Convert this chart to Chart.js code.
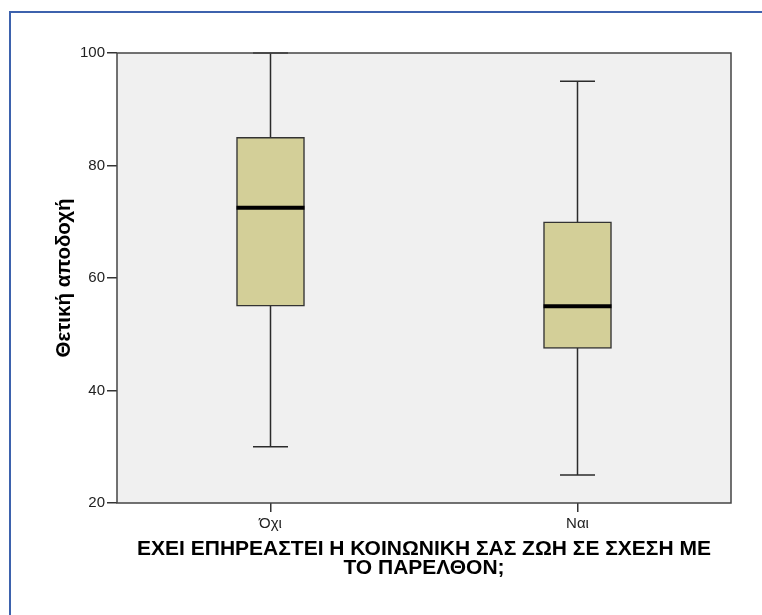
<!DOCTYPE html>
<html>
<head>
<meta charset="utf-8">
<script src="https://cdn.jsdelivr.net/npm/chart.js@4/dist/chart.umd.min.js"></script>
<style>
  html, body { margin: 0; padding: 0; background: #fff; }
  #wrap { position: relative; width: 762px; height: 615px; overflow: hidden; }
  #frame {
    position: absolute; left: 9px; top: 11px; width: 800px; height: 700px;
    border-left: 2px solid #3d62ad; border-top: 2px solid #3d62ad;
  }
  canvas { position: absolute; left: 0; top: 0; }
</style>
</head>
<body>
<div id="wrap">
  <div id="frame"></div>
  <canvas id="chart" width="762" height="615"></canvas>
</div>
<script>
// boxplot summary per group
const categories  = ['Όχι', 'Ναι'];
const whiskerLow  = [30, 25];
const q1          = [55, 47.5];
const median      = [72.5, 55];
const q3          = [85, 70];
const whiskerHigh = [100, 95];
const yTicks      = [20, 40, 60, 80, 100];

const BOX_W = 68;
const CAP_W = 35;
const FONT = '"Liberation Sans", Arial, sans-serif';

const boxPlotPlugin = {
    id: 'boxPlot',
    beforeDraw(chart) {
        const { ctx, chartArea: a } = chart;
        ctx.save();
        ctx.fillStyle = '#f0f0f0';
        ctx.fillRect(a.left, a.top, a.right - a.left, a.bottom - a.top);
        ctx.restore();
    },
    beforeDatasetsDraw(chart) {
        const { ctx, scales: { x, y } } = chart;
        ctx.save();
        ctx.strokeStyle = '#2b2b2b';
        ctx.lineWidth = 1.5;
        categories.forEach((c, i) => {
            const cx = x.getPixelForValue(i);
            const lo = y.getPixelForValue(whiskerLow[i]);
            const hi = y.getPixelForValue(whiskerHigh[i]);
            ctx.beginPath();
            ctx.moveTo(cx, lo); ctx.lineTo(cx, hi);
            ctx.moveTo(cx - CAP_W / 2, lo); ctx.lineTo(cx + CAP_W / 2, lo);
            ctx.moveTo(cx - CAP_W / 2, hi); ctx.lineTo(cx + CAP_W / 2, hi);
            ctx.stroke();
        });
        ctx.restore();
    },
    afterDatasetsDraw(chart) {
        const { ctx, scales: { x, y } } = chart;
        ctx.save();
        ctx.strokeStyle = '#000';
        ctx.lineWidth = 4;
        categories.forEach((c, i) => {
            const cx = x.getPixelForValue(i);
            const my = y.getPixelForValue(median[i]);
            ctx.beginPath();
            ctx.moveTo(cx - BOX_W / 2, my); ctx.lineTo(cx + BOX_W / 2, my);
            ctx.stroke();
        });
        ctx.restore();
    },
    afterDraw(chart) {
        const { ctx, chartArea: a } = chart;
        ctx.save();
        ctx.strokeStyle = '#444';
        ctx.lineWidth = 1.5;
        ctx.strokeRect(a.left, a.top, a.right - a.left, a.bottom - a.top);
        ctx.restore();
    },
};

new Chart(document.getElementById('chart'), {
    type: 'bar',
    data: {
        labels: categories,
        datasets: [{
            data:            categories.map((c, i) => [q1[i], q3[i]]),
            backgroundColor: '#d3cf98',
            borderColor:     '#333',
            borderWidth:     1.5,
            borderSkipped:   false,
            barThickness:    BOX_W,
        }],
    },
    options: {
        responsive: false,
        animation:  false,
        layout: { padding: { left: 0, top: 53, right: 31, bottom: 0 } },
        plugins: {
            legend:  { display: false },
            tooltip: { enabled: false },
        },
        scales: {
            x: {
                offset: true,
                grid:   { offset: false, drawOnChartArea: false, tickLength: 9, color: '#333', lineWidth: 1.5 },
                border: { display: false },
                ticks:  { color: '#222', padding: 3, font: { family: FONT, size: 15 } },
                title: {
                    display: true,
                    text:    ['ΕΧΕΙ ΕΠΗΡΕΑΣΤΕΙ Η ΚΟΙΝΩΝΙΚΗ ΣΑΣ ΖΩΗ ΣΕ ΣΧΕΣΗ ΜΕ', 'ΤΟ ΠΑΡΕΛΘΟΝ;'],
                    color:   '#000',
                    font:    { family: FONT, size: 21, weight: 'bold', lineHeight: 0.93 },
                    padding: { top: 0, bottom: 36.7 },
                },
                afterFit: s => { s.height = 112; },
            },
            y: {
                min: 20,
                max: 100,
                afterBuildTicks: s => { s.ticks = yTicks.map(v => ({ value: v })); },
                grid:   { drawOnChartArea: false, tickLength: 10, color: '#333', lineWidth: 1.5 },
                border: { display: false },
                ticks:  { color: '#222', padding: 2, font: { family: FONT, size: 15 } },
                title: {
                    display: true,
                    text:    'Θετική αποδοχή',
                    color:   '#000',
                    font:    { family: FONT, size: 20.5, weight: 'bold', lineHeight: 1 },
                    padding: { top: 53.75, bottom: 0 },
                },
                afterFit: s => { s.width = 117; },
            },
        },
    },
    plugins: [boxPlotPlugin],
});
</script>
</body>
</html>
